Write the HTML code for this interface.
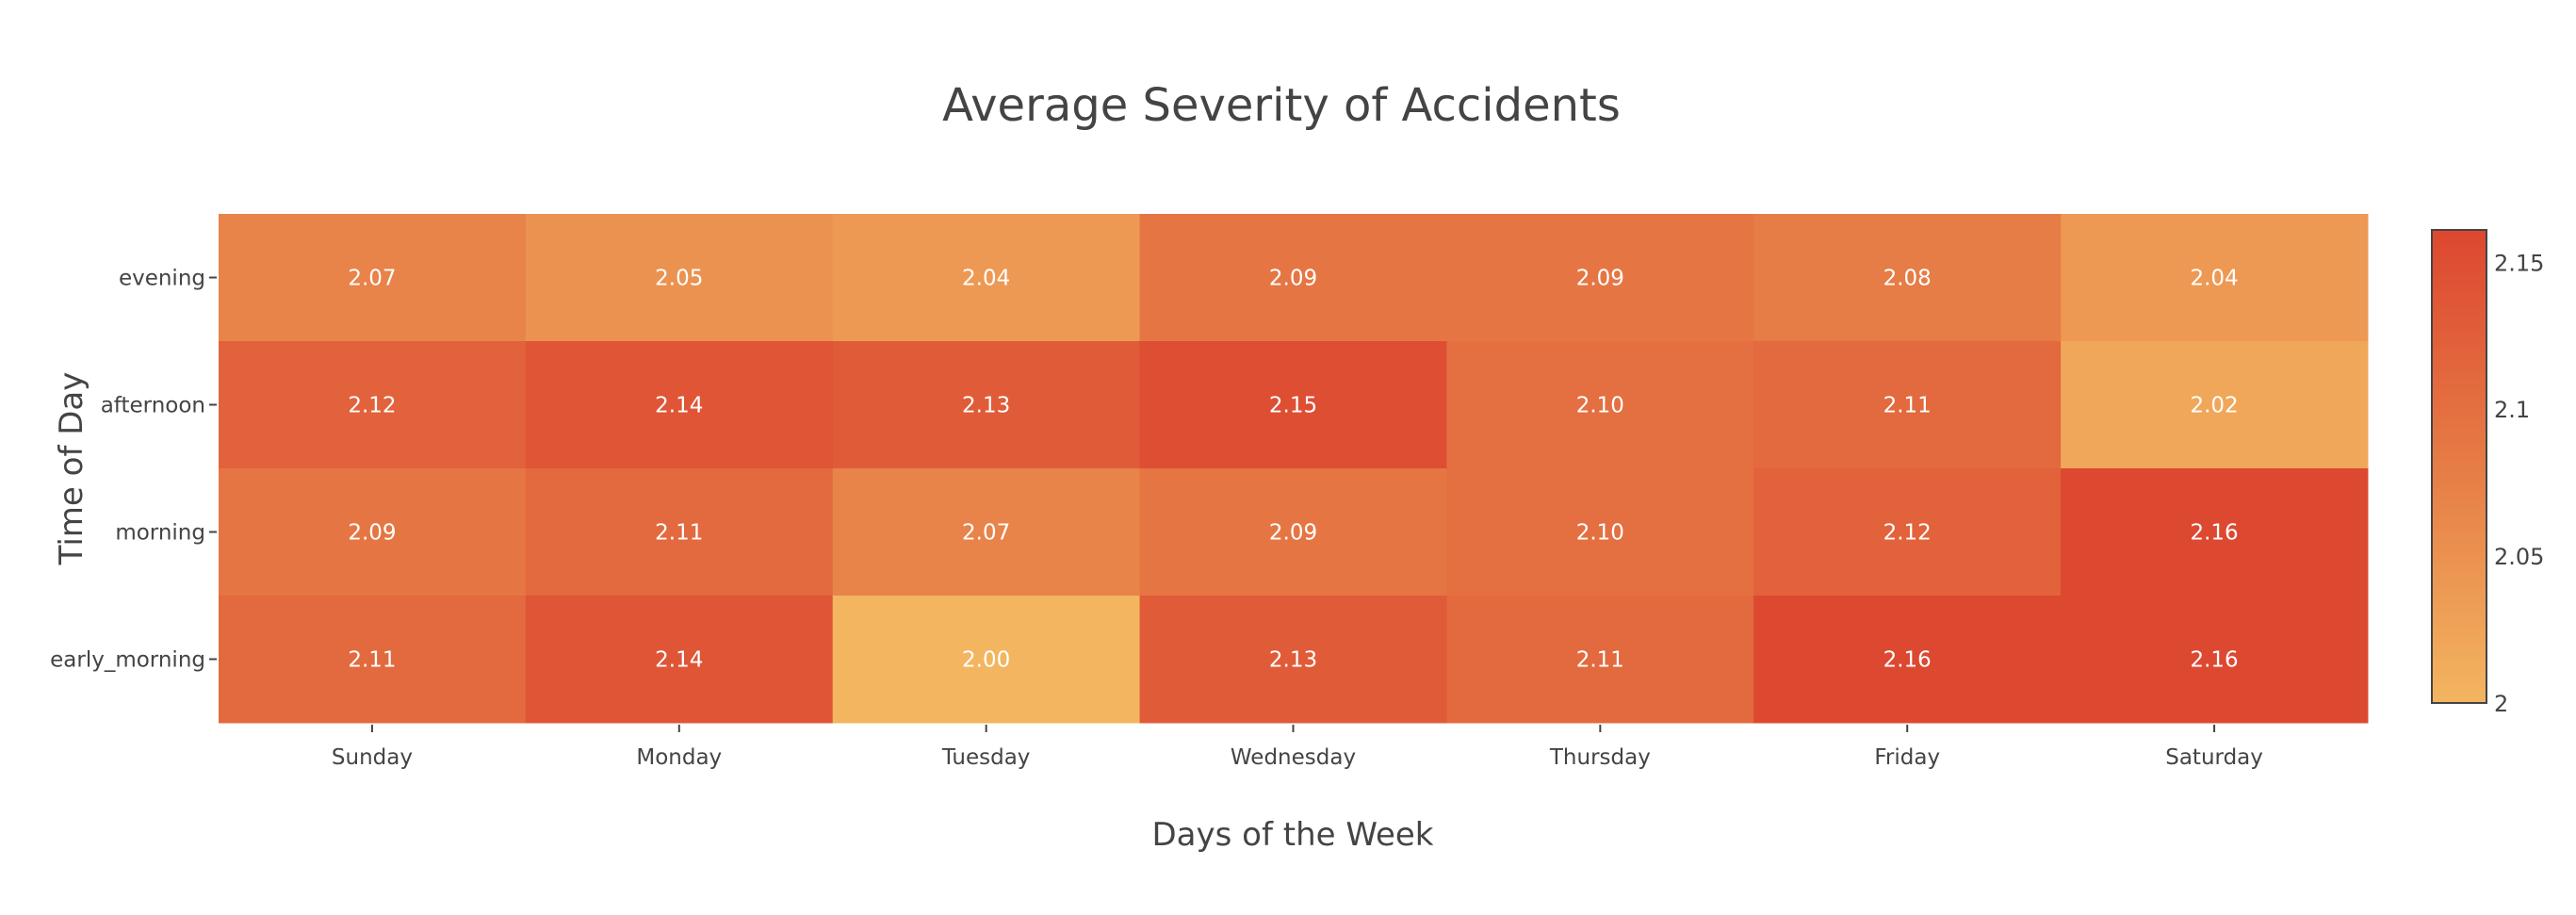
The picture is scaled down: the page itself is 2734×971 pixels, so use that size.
<!DOCTYPE html>
<html><head><meta charset="utf-8"><style>
body{margin:0;background:#fff;}
svg text{font-family:"DejaVu Sans","Liberation Sans",sans-serif;}
</style></head><body>
<svg id="chart" width="2734" height="966" xmlns="http://www.w3.org/2000/svg">
<text x="1360" y="128" text-anchor="middle" font-size="48" fill="#444">Average Severity of Accidents</text>
<g id="cells"></g>
<g id="xaxis"></g>
<g id="yaxis"></g>
<g id="cbar"></g>
<text x="1372" y="897" text-anchor="middle" font-size="34" fill="#444">Days of the Week</text>
<text transform="translate(87,497) rotate(-90)" text-anchor="middle" font-size="34" fill="#444">Time of Day</text>
</svg>
<script>
const days = ["Sunday","Monday","Tuesday","Wednesday","Thursday","Friday","Saturday"];
const times = ["evening","afternoon","morning","early_morning"];
const eveningVals = [2.07,2.05,2.04,2.09,2.09,2.08,2.04];
const afternoonVals = [2.12,2.14,2.13,2.15,2.10,2.11,2.02];
const morningVals = [2.09,2.11,2.07,2.09,2.10,2.12,2.16];
const earlyMorningVals = [2.11,2.14,2.00,2.13,2.11,2.16,2.16];
const cbarTicks = [2, 2.05, 2.1, 2.15];
const cbarTickLabels = ["2","2.05","2.1","2.15"];
const zMin = 2.0, zMax = 2.161;

const rows = [eveningVals, afternoonVals, morningVals, earlyMorningVals];
const NS = "http://www.w3.org/2000/svg";
const L = 232, R = 2513, T = 227, B = 767;
const colW = (R - L) / days.length, rowH = (B - T) / times.length;
const xPos = i => L + i * colW;
const yPos = j => T + j * rowH;
const stops = [[0,[243,181,96]],[0.5,[230,124,70]],[1,[221,71,48]]];
function color(v){
  let t = Math.max(0, Math.min(1, (v - zMin) / (zMax - zMin)));
  for (let k = 1; k < stops.length; k++) {
    if (t <= stops[k][0]) {
      const a = stops[k-1], b = stops[k], f = (t - a[0]) / (b[0] - a[0]);
      const c = a[1].map((x, i) => Math.round(x + (b[1][i] - x) * f));
      return `rgb(${c.join(",")})`;
    }
  }
  return "rgb(221,71,48)";
}
function mk(tag, attrs, parent){
  const e = document.createElementNS(NS, tag);
  for (const k in attrs) e.setAttribute(k, attrs[k]);
  parent.appendChild(e); return e;
}
const cells = document.getElementById("cells");
rows.forEach((row, j) => {
  row.forEach((v, i) => {
    const r = mk("rect", {x: xPos(i), y: yPos(j), width: colW + 0.5, height: rowH + 0.5, fill: color(v)}, cells);
    
    
    const t = mk("text", {x: xPos(i) + colW/2, y: yPos(j) + rowH/2 + 8, "text-anchor": "middle", "font-size": 23, fill: "#fff"}, cells);
    t.textContent = v.toFixed(2);
    
    
  });
});
const xa = document.getElementById("xaxis");
days.forEach((d, i) => {
  const cx = xPos(i) + colW/2;
  const tk = mk("line", {x1: cx, x2: cx, y1: B + 2, y2: B + 10, stroke: "#444", "stroke-width": 2}, xa);
  
  
  const t = mk("text", {x: cx, y: B + 44, "text-anchor": "middle", "font-size": 23, fill: "#444"}, xa);
  t.textContent = d;
  
  
});
const ya = document.getElementById("yaxis");
times.forEach((d, j) => {
  const cy = yPos(j) + rowH/2;
  const tk = mk("line", {x1: L - 10, x2: L - 2, y1: cy, y2: cy, stroke: "#444", "stroke-width": 2}, ya);
  
  
  const t = mk("text", {x: L - 14, y: cy + 8, "text-anchor": "end", "font-size": 23, fill: "#444"}, ya);
  t.textContent = d;
  
  
});
const cb = document.getElementById("cbar");
const cbL = 2581, cbR = 2639, cbT = 244, cbB = 746;
const defs = mk("defs", {}, cb);
const grad = mk("linearGradient", {id: "cg", x1: 0, y1: 1, x2: 0, y2: 0}, defs);
stops.forEach(s => mk("stop", {offset: s[0], "stop-color": `rgb(${s[1].join(",")})`}, grad));
const cbr = mk("rect", {x: cbL, y: cbT, width: cbR - cbL, height: cbB - cbT, fill: "url(#cg)", stroke: "#444", "stroke-width": 2}, cb);


const cbY = v => cbB - (v - zMin) / (zMax - zMin) * (cbB - cbT);
cbarTicks.forEach((v, k) => {
  const t = mk("text", {x: cbR + 8, y: cbY(v) + 9, "font-size": 24, fill: "#444"}, cb);
  t.textContent = cbarTickLabels[k];
  
  
});
</script>
</body></html>
